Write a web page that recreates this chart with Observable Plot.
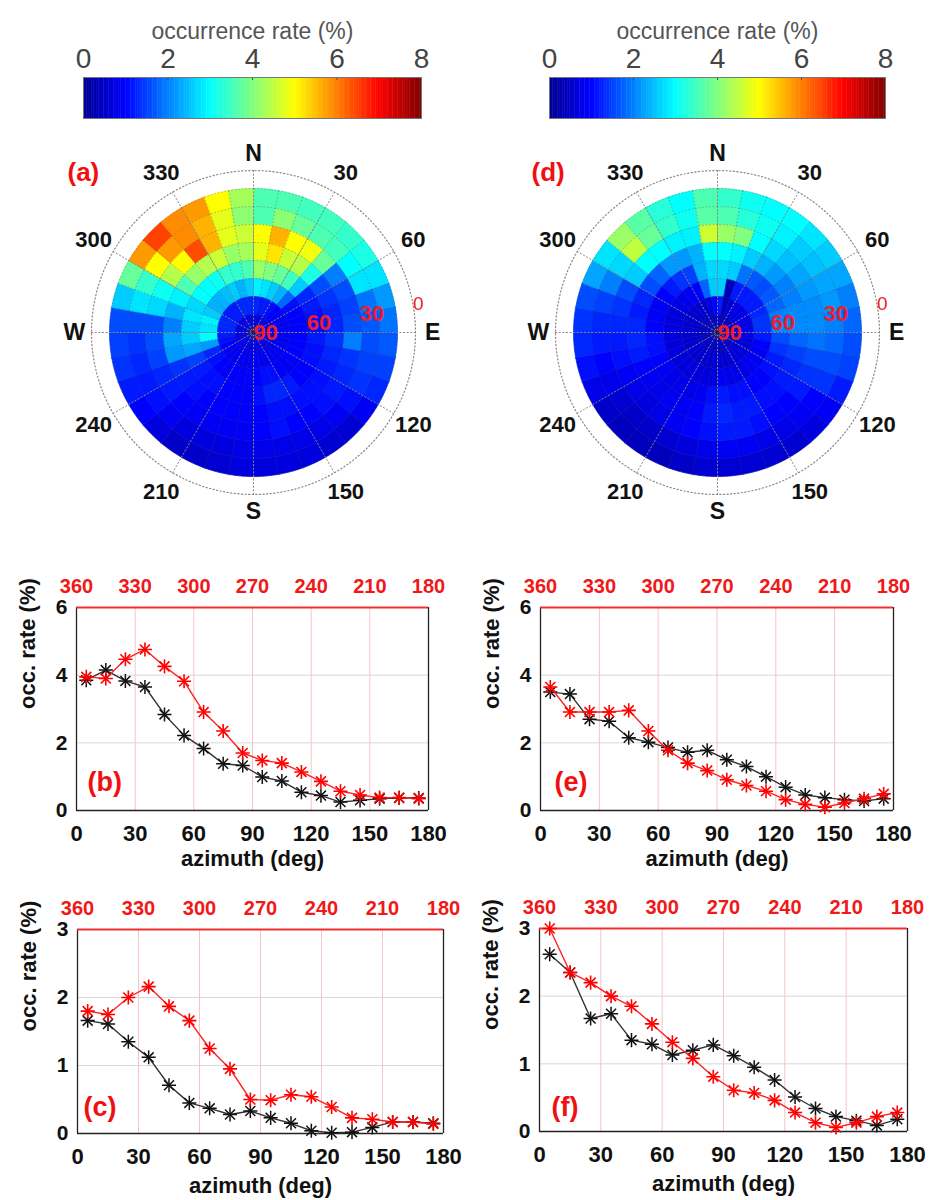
<!DOCTYPE html>
<html><head><meta charset="utf-8">
<script src="https://cdn.jsdelivr.net/npm/d3@7"></script>
<script src="https://cdn.jsdelivr.net/npm/@observablehq/plot@0.6"></script>
<style>
body{margin:0;background:#fff;}
#root{position:relative;width:932px;height:1200px;overflow:hidden;background:#fff;font-family:"Liberation Sans",Arial,Helvetica,sans-serif;}
.panel{position:absolute;}
.lc g[aria-label^="x-axis"] text{font-size:22px;font-weight:bold;fill:#111;}
.lc g[aria-label^="y-axis"] text{font-size:21px;font-weight:bold;fill:#111;}
.cb g[aria-label^="x-axis"] text{font-size:28px;fill:#444;}
</style></head><body><div id="root"></div>
<script>
const FONT = '"Liberation Sans", Arial, Helvetica, sans-serif';

// ---------- colour bar ----------
const colorTicks = [0, 2, 4, 6, 8];
const jetStops = [0, 1, 3, 5, 7, 8];
const jetColors = ["#000090", "#0000ff", "#00ffff", "#ffff00", "#ff0000", "#800000"];

// ---------- polar maps ----------
const azBins = [0,10,20,30,40,50,60,70,80,90,100,110,120,130,140,150,160,170,180,190,200,210,220,230,240,250,260,270,280,290,300,310,320,330,340,350];
const elBins = [10, 20, 30, 40, 50, 60, 70, 80];
const azTickLabels = [30, 60, 120, 150, 210, 240, 300, 330];
const compassNames = ["N", "E", "S", "W"];
const compassAz = [0, 90, 180, 270];
const elevLabels = [0, 30, 60, 90];

// occurrence rate (%) per azimuth bin (rows) and elevation bin 10-20 ... 80-90 (columns)
const occA = [
  [3.6,3.6,5.0,4.8,4.2,2.9,1.3,0.8],
  [3.6,4.1,5.6,5.2,4.0,2.8,1.2,0.8],
  [3.5,3.8,5.0,4.6,3.8,2.6,1.2,0.8],
  [3.5,3.6,4.9,4.4,3.5,2.4,1.1,0.8],
  [3.4,3.5,3.8,3.2,2.6,1.8,1.0,0.8],
  [3.2,3.0,2.0,1.6,1.3,1.1,0.9,0.8],
  [2.8,2.8,1.6,1.4,1.2,1.0,0.9,0.8],
  [2.2,1.9,1.5,1.3,1.1,1.0,0.9,0.8],
  [1.9,1.7,1.6,1.3,1.1,1.0,0.9,0.8],
  [1.7,1.6,2.0,1.4,1.2,1.0,0.9,0.8],
  [1.5,1.5,1.4,1.3,1.1,1.0,0.9,0.8],
  [1.3,1.4,1.3,1.2,1.1,1.0,0.9,0.8],
  [0.9,1.1,1.2,1.1,1.0,1.0,0.9,0.8],
  [0.6,0.9,1.1,1.1,1.0,0.9,0.9,0.8],
  [0.6,0.8,1.0,1.1,1.2,1.0,0.9,0.8],
  [0.7,0.8,1.0,1.1,1.3,1.1,0.9,0.8],
  [0.7,0.8,1.1,1.1,1.3,1.1,0.9,0.8],
  [0.7,0.8,1.0,1.0,1.1,1.0,0.9,0.8],
  [0.7,0.8,0.9,1.0,1.0,1.0,0.9,0.8],
  [0.6,0.7,0.9,1.0,1.0,1.0,0.9,0.8],
  [0.5,0.7,0.9,1.0,1.0,1.0,0.9,0.8],
  [0.5,0.7,0.9,1.0,1.1,1.0,0.9,0.8],
  [0.7,0.9,1.0,1.1,1.1,1.0,0.9,0.8],
  [1.0,1.1,1.2,1.2,1.2,1.1,0.9,0.8],
  [1.2,1.2,1.3,1.4,1.5,1.3,1.0,0.8],
  [1.4,1.3,1.5,2.2,2.3,2.2,1.1,0.8],
  [1.5,1.4,1.6,2.3,2.6,3.0,1.2,0.8],
  [1.6,1.6,1.6,2.0,2.6,2.8,1.3,0.8],
  [2.6,2.8,2.7,2.4,2.8,2.9,1.3,0.8],
  [3.8,3.4,3.1,2.9,2.7,2.6,1.3,0.8],
  [5.8,5.0,4.4,3.6,3.0,2.4,1.2,0.8],
  [6.5,5.8,5.0,4.2,3.0,2.4,1.2,0.8],
  [5.9,5.9,6.4,4.4,3.1,2.5,1.2,0.8],
  [5.8,5.6,5.6,4.6,3.4,2.6,1.3,0.8],
  [5.0,4.8,4.8,4.2,3.4,2.4,1.3,0.8],
  [4.3,4.1,4.6,4.3,3.6,2.6,1.3,0.8]
];
const occD = [
  [3.4,3.6,4.2,3.0,2.7,2.6,1.2,0.6],
  [3.1,3.3,4.0,2.9,2.6,0.4,0.4,0.5],
  [3.0,3.1,3.0,2.6,1.9,1.2,0.7,0.5],
  [3.0,2.9,2.7,2.4,1.7,1.2,0.8,0.5],
  [2.8,2.6,2.5,2.2,1.6,1.2,0.8,0.5],
  [2.6,2.5,2.3,2.0,1.7,1.2,0.8,0.5],
  [2.3,2.3,2.2,2.0,1.8,1.3,0.8,0.5],
  [2.0,2.2,2.1,2.1,2.0,1.4,0.8,0.5],
  [1.8,2.0,2.1,2.1,2.1,1.4,0.8,0.5],
  [1.6,1.8,1.9,1.8,1.6,1.2,0.8,0.5],
  [1.5,1.6,1.6,1.5,1.4,1.0,0.7,0.5],
  [1.2,1.4,1.4,1.3,1.2,0.9,0.7,0.5],
  [0.9,1.0,1.2,1.2,1.1,0.9,0.7,0.5],
  [0.7,0.9,1.0,1.1,1.0,0.9,0.7,0.5],
  [0.6,0.8,1.0,1.1,1.0,0.8,0.7,0.5],
  [0.6,0.8,1.1,1.2,1.1,0.8,0.6,0.5],
  [0.6,0.9,1.2,1.2,1.1,0.8,0.6,0.5],
  [0.6,0.9,1.2,1.3,1.2,0.9,0.6,0.5],
  [0.6,0.8,1.1,1.2,1.1,0.7,0.6,0.5],
  [0.5,0.7,1.0,1.0,0.9,0.7,0.6,0.5],
  [0.4,0.6,0.9,0.9,0.8,0.7,0.6,0.5],
  [0.4,0.5,0.8,0.9,0.8,0.7,0.6,0.5],
  [0.4,0.5,0.7,0.8,0.8,0.7,0.6,0.5],
  [0.5,0.6,0.8,0.9,0.9,0.7,0.6,0.5],
  [0.8,0.8,0.9,1.0,1.0,0.7,0.6,0.5],
  [1.1,1.0,1.1,1.2,1.1,0.7,0.6,0.5],
  [1.3,1.2,1.2,1.3,1.1,0.7,0.6,0.5],
  [1.4,1.3,1.3,1.3,1.0,0.7,0.6,0.5],
  [1.6,1.5,1.4,1.2,0.9,0.7,0.6,0.5],
  [2.3,2.0,1.6,1.3,0.9,0.7,0.6,0.5],
  [2.8,2.7,2.6,1.6,1.0,0.8,0.6,0.5],
  [4.2,4.5,3.0,1.8,1.2,0.8,0.6,0.5],
  [3.7,3.8,3.0,2.2,1.4,0.9,0.6,0.5],
  [3.3,3.4,2.9,2.2,1.5,1.0,0.6,0.5],
  [3.0,3.1,2.9,2.4,2.4,1.8,0.7,0.5],
  [3.6,3.7,4.6,3.0,2.7,2.6,1.0,0.6]
];

// ---------- line panels ----------
const azCenters = [5,15,25,35,45,55,65,75,85,95,105,115,125,135,145,155,165,175];
const xTicks = [0, 30, 60, 90, 120, 150, 180];
const topTickLabels = [360, 330, 300, 270, 240, 210, 180];
const bBlack = [3.85,4.15,3.83,3.65,2.84,2.22,1.83,1.38,1.33,0.99,0.87,0.54,0.44,0.25,0.30,0.35,0.37,0.37];
const bRed   = [3.95,3.90,4.47,4.76,4.26,3.82,2.91,2.35,1.70,1.48,1.40,1.14,0.86,0.57,0.46,0.38,0.38,0.35];
const eBlack = [3.50,3.44,2.70,2.64,2.15,2.02,1.86,1.72,1.78,1.50,1.30,1.00,0.69,0.46,0.38,0.32,0.28,0.35];
const eRed   = [3.65,2.91,2.91,2.91,2.96,2.35,1.78,1.40,1.18,0.91,0.74,0.57,0.32,0.18,0.10,0.22,0.35,0.49];
const cBlack = [1.66,1.61,1.35,1.12,0.71,0.45,0.37,0.28,0.33,0.23,0.15,0.04,0.01,0.02,0.09,0.17,0.17,0.15];
const cRed   = [1.80,1.75,2.00,2.16,1.87,1.66,1.25,0.95,0.50,0.49,0.57,0.54,0.39,0.23,0.21,0.17,0.17,0.14];
const fBlack = [2.62,2.35,1.67,1.74,1.35,1.29,1.13,1.20,1.28,1.12,0.95,0.76,0.51,0.34,0.22,0.16,0.09,0.18];
const fRed   = [3.00,2.35,2.20,2.00,1.85,1.59,1.32,1.08,0.81,0.61,0.57,0.46,0.28,0.13,0.06,0.13,0.22,0.28];

// ================= drawing =================
const root = document.getElementById("root");
function place(node, left, top, w, h, cls) {
  const div = document.createElement("div");
  div.className = "panel " + (cls || "");
  div.style.left = left + "px"; div.style.top = top + "px";
  div.style.width = w + "px"; div.style.height = h + "px";
  div.appendChild(node);
  root.appendChild(div);
}
const colorScale = {type: "linear", domain: jetStops, range: jetColors, interpolate: "rgb", clamp: true};
const lonOf = az => 180 - az;   // azimuth (clockwise from N) -> longitude on the north-pole projection
const intFmt = d => String(d);

function colorbar(mR) {
  const steps = d3.range(0, 8, 0.04);
  return Plot.plot({
    width: 466, height: 125, marginLeft: 83, marginRight: mR, marginTop: 77, marginBottom: 7,
    style: {fontFamily: FONT, fontSize: "28px", color: "#444", background: "transparent"},
    x: {domain: [0, 8], axis: "top", ticks: colorTicks, tickFormat: intFmt, tickSize: 0, tickPadding: 10, label: null},
    y: {domain: [0, 1], axis: null},
    color: colorScale,
    marks: [
      Plot.rect(steps, {x1: d => d, x2: d => d + 0.05, y1: 0, y2: 1, fill: d => d + 0.02}),
      Plot.ruleX(colorTicks.slice(1, -1), {y1: 1, y2: 0.93, stroke: "#444", strokeWidth: 1}),
      Plot.frame({stroke: "#777"}),
      Plot.text(["occurrence rate (%)"], {frameAnchor: "top", dy: -55, fill: "#555", fontSize: 23})
    ]
  });
}

function cellFeatures(rows) {
  const feats = [];
  rows.forEach((vals, i) => {
    const a0 = azBins[i], a1 = a0 + 10;
    const l0 = lonOf(a1), l1 = lonOf(a0);
    vals.forEach((v, j) => {
      const e0 = elBins[j], e1 = Math.min(e0 + 10, 89.999);
      const ring = [[l0, e0]];
      for (let l = l0; l <= l1; l += 1) ring.push([l, e1]);
      for (let l = l1; l >= l0; l -= 1) ring.push([l, e0]);
      feats.push({type: "Feature", properties: {v}, geometry: {type: "Polygon", coordinates: [ring]}});
    });
  });
  return feats;
}
function parallel(el) {
  return {type: "LineString", coordinates: d3.range(-180, 181, 2).map(l => [l, el])};
}
const cellEdges = [
  ...azBins.map(a => ({type: "LineString", coordinates: [[lonOf(a), 10], [lonOf(a), 89.99]]})),
  ...elBins.map(parallel)
];
const spokes = azBins.filter(a => a % 30 === 0).map(a => ({type: "LineString", coordinates: [[lonOf(a), 0], [lonOf(a), 89.99]]}));
const outer = [parallel(0)];
const centerRings = [d3.geoCircle().center([0, 90]).radius(1.2)(), d3.geoCircle().center([0, 90]).radius(2.6)()];

function polar(rows, letter) {
  return Plot.plot({
    width: 420, height: 420, margin: 0,
    style: {fontFamily: FONT, background: "transparent"},
    projection: {type: "azimuthal-equidistant", rotate: [0, -90], domain: d3.geoCircle().center([0, 90]).radius(90)(), inset: 48, clip: false},
    color: colorScale,
    marks: [
      Plot.geo(cellFeatures(rows), {fill: d => d.properties.v, stroke: d => d.properties.v, strokeWidth: 0.7}),
      Plot.geo(cellEdges, {stroke: "#333", strokeOpacity: 0.35, strokeWidth: 0.9, strokeDasharray: "1,2.5", fill: "none"}),
      Plot.geo(spokes, {stroke: "#888", strokeWidth: 1, strokeDasharray: "1.2,2.4", fill: "none"}),
      Plot.geo(outer, {stroke: "#888", strokeWidth: 1.2, strokeDasharray: "1.2,2.4", fill: "none"}),
      Plot.geo(centerRings, {stroke: "#334", strokeWidth: 1, fill: "none"}),
      Plot.text(azTickLabels, {x: d => lonOf(d), y: -12.5, text: d => String(d), fontSize: 22, fontWeight: "bold", fill: "#111"}),
      Plot.text(compassNames, {x: (d, i) => lonOf(compassAz[i]), y: -9.5, text: d => d, fontSize: 23, fontWeight: "bold", fill: "#111"}),
      Plot.text(elevLabels.filter(d => d === 0), {x: lonOf(80), y: d => d, text: d => String(d), textAnchor: "start", fontSize: 19, fill: "#ee1c2e"}),
      Plot.text(elevLabels.filter(d => d > 0), {x: lonOf(80), y: d => d, text: d => String(d), textAnchor: "start", fontSize: 22, fontWeight: "bold", fill: "#ee1c2e"}),
      Plot.text([letter], {frameAnchor: "top-left", dx: 24, dy: 40, fontSize: 26, fontWeight: "bold", fill: "#f01010"})
    ]
  });
}

function lineChart(o) {
  const xs = (d, i) => azCenters[i];
  return Plot.plot({
    width: 466, height: o.H, marginLeft: o.mL, marginRight: o.mR, marginTop: o.mT, marginBottom: o.H - o.mT - o.fh,
    style: {fontFamily: FONT, fontSize: "22px", fontWeight: "bold", color: "#111", background: "transparent"},
    x: {domain: [0, 180], ticks: xTicks, tickFormat: intFmt, tickSize: 0, tickPadding: 15, label: null},
    y: {domain: [0, o.yMax], ticks: o.yTicks, tickFormat: intFmt, tickSize: 0, tickPadding: 9, label: null},
    marks: [
      Plot.ruleY(o.yTicks.slice(1, -1), {stroke: "#d8d8d8", strokeWidth: 1}),
      Plot.ruleX(xTicks.slice(1, -1), {stroke: "#f6c4c4", strokeWidth: 1}),
      Plot.ruleX([0, 180], {stroke: "#222", strokeWidth: 1.3}),
      Plot.ruleY([0], {stroke: "#222", strokeWidth: 1.3}),
      Plot.ruleY([o.yMax], {stroke: "#f03030", strokeWidth: 2}),
      Plot.line(o.black, {x: xs, y: d => d, stroke: "#333", strokeWidth: 1.4}),
      Plot.dot(o.black, {x: xs, y: d => d, symbol: "plus", r: 4.6, stroke: "#111", strokeWidth: 1.5}),
      Plot.dot(o.black, {x: xs, y: d => d, symbol: "times", r: 4.6, stroke: "#111", strokeWidth: 1.5}),
      Plot.line(o.red, {x: xs, y: d => d, stroke: "#f22", strokeWidth: 1.4}),
      Plot.dot(o.red, {x: xs, y: d => d, symbol: "plus", r: 4.6, stroke: "#f00", strokeWidth: 1.6}),
      Plot.dot(o.red, {x: xs, y: d => d, symbol: "times", r: 4.6, stroke: "#f00", strokeWidth: 1.6}),
      Plot.text(topTickLabels, {x: d => 360 - d, frameAnchor: "top", dy: o.topDy, text: d => String(d), fill: "#f01818", fontSize: 20, fontWeight: "bold", lineAnchor: "middle"}),
      Plot.text(["occ. rate (%)"], {frameAnchor: "left", dx: -49, rotate: -90, fontSize: 22, fontWeight: "bold", fill: "#111"}),
      Plot.text(["azimuth (deg)"], {frameAnchor: "bottom", dy: o.xlDy, lineAnchor: "middle", fontSize: 22, fontWeight: "bold", fill: "#111"}),
      Plot.text([o.letter], {frameAnchor: "bottom-left", dx: o.lx, dy: o.ly, textAnchor: "start", lineAnchor: "middle", fontSize: 27, fontWeight: "bold", fill: "#f01010"})
    ]
  });
}

place(colorbar(45), 0, 0, 466, 125, "cb");
place(colorbar(47), 466, 0, 466, 125, "cb");
place(polar(occA, "(a)"), 42.7, 122, 420, 420, "pp");
place(polar(occD, "(d)"), 506.7, 122, 420, 420, "pp");
place(lineChart({black: bBlack, red: bRed, yMax: 6, yTicks: [0,2,4,6], letter: "(b)", H: 315, mL: 76, mR: 38, mT: 47, fh: 203, topDy: -21, xlDy: 48, lx: 11, ly: -28}), 0, 560, 466, 315, "lc");
place(lineChart({black: eBlack, red: eRed, yMax: 6, yTicks: [0,2,4,6], letter: "(e)", H: 315, mL: 74, mR: 39, mT: 47, fh: 203, topDy: -21, xlDy: 48, lx: 14, ly: -28}), 466, 560, 466, 315, "lc");
place(lineChart({black: cBlack, red: cRed, yMax: 3, yTicks: [0,1,2,3], letter: "(c)", H: 318, mL: 77, mR: 23, mT: 49, fh: 204, topDy: -21, xlDy: 52, lx: 6, ly: -26}), 0, 880, 466, 318, "lc");
place(lineChart({black: fBlack, red: fRed, yMax: 3, yTicks: [0,1,2,3], letter: "(f)", H: 318, mL: 73, mR: 25, mT: 48, fh: 203, topDy: -21, xlDy: 52, lx: 12, ly: -24}), 466, 880, 466, 318, "lc");
</script></body></html>
